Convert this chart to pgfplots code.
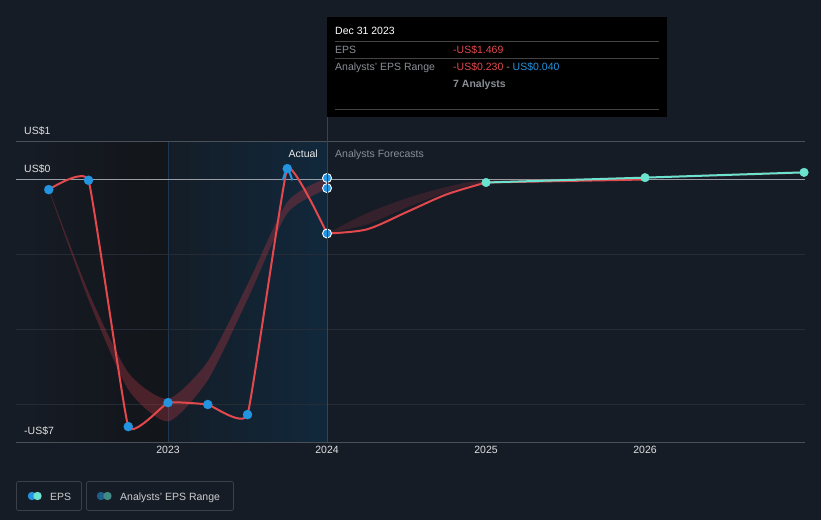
\documentclass[border=0pt]{standalone}
\usepackage{pgfplots}
\pgfplotsset{compat=1.18}
\usepackage{fontspec}
\setmainfont{Liberation Sans}

\definecolor{bg}{HTML}{161C26}
\definecolor{epsred}{HTML}{E3484D}
\definecolor{epsblue}{HTML}{2394DF}
\definecolor{epsteal}{HTML}{6CE3CF}
\definecolor{gridc}{HTML}{262C35}
\definecolor{axisc}{HTML}{4A5058}
\definecolor{zeroc}{HTML}{9A9EA4}
\definecolor{txtgray}{HTML}{8A8F96}
\definecolor{pastdark}{HTML}{121519}
\definecolor{actleft}{HTML}{141D27}
\definecolor{actright}{HTML}{11283C}
\definecolor{actline}{HTML}{1E3750}
\definecolor{cursor}{HTML}{2D465F}
\definecolor{bandred}{HTML}{A0343F}
\definecolor{sepc}{HTML}{444444}
\definecolor{legbox}{HTML}{3A404A}
\definecolor{rangeblue}{HTML}{1F5F8B}
\definecolor{rangeteal}{HTML}{3F8A82}

\begin{document}
\begin{tikzpicture}[x=1pt,y=1pt]
\fill[bg] (0,0) rectangle (821,520);
% shaded periods (2022.044 -> 16, 2023 -> 168, 2024 -> 327)
\fill[left color=bg, right color=pastdark] (16,78) rectangle (168,378);
\fill[left color=actleft, right color=actright] (168,78) rectangle (327,378);
\draw[actline, line width=0.8pt] (168,78) -- (168,378);

\begin{axis}[
  at={(16pt,78pt)}, anchor=south west,
  scale only axis, width=789pt, height=300pt,
  xmin=2022.044, xmax=2027.006,
  ymin=-7, ymax=1,
  axis y line=none,
  axis x line*=bottom,
  x axis line style={draw=axisc, line width=1pt, -},
  xtick={2023,2024,2025,2026},
  ytick=\empty,
  major tick length=0pt,
  xticklabel style={text=white!88!black, font=\fontsize{10.5}{12}\selectfont, yshift=-1pt},
  /pgf/number format/1000 sep={},
  /pgf/number format/assume math mode=true,
]
% grid
\draw[gridc, line width=1pt] (axis cs:2022.044,-2) -- (axis cs:2027.006,-2);
\draw[gridc, line width=1pt] (axis cs:2022.044,-4) -- (axis cs:2027.006,-4);
\draw[gridc, line width=1pt] (axis cs:2022.044,-6) -- (axis cs:2027.006,-6);
\draw[axisc, line width=1pt] (axis cs:2022.044,1) -- (axis cs:2027.006,1);
\draw[zeroc, line width=1.6pt] (axis cs:2022.044,0) -- (axis cs:2027.006,0);

% past analyst range band: upper edge, then lower edge back
\addplot[fill=bandred, fill opacity=0.4, draw=none, smooth, tension=0.4] coordinates {
  (2022.25,-0.25) (2022.5,-3.0) (2022.75,-5.15) (2023.0,-5.85) (2023.25,-4.85) (2023.5,-2.8) (2023.75,-0.6) (2024.0,0.04)
  (2024.0,-0.23) (2023.75,-0.9) (2023.5,-3.2) (2023.25,-5.35) (2023.0,-6.45) (2022.75,-5.6) (2022.5,-3.2) (2022.25,-0.29)
};

% forecast range band
\addplot[fill=bandred, fill opacity=0.22, draw=none, smooth, tension=0.4] coordinates {
  (2024,-1.44) (2024.25,-0.9) (2024.5,-0.5) (2024.75,-0.2) (2025,-0.03) (2026,0.08) (2027,0.23)
  (2027,0.15) (2026,0.02) (2025,-0.1) (2024.75,-0.35) (2024.5,-0.75) (2024.25,-1.2) (2024,-1.44)
};

% EPS actual
\addplot[epsred, line width=2pt, smooth, tension=0.2] coordinates {
  (2022.25,-0.27) (2022.5,-0.02) (2022.75,-6.59) (2023.0,-5.95) (2023.25,-6.0) (2023.5,-6.27) (2023.75,0.29) (2024.0,-1.44)
};
\addplot[epsblue, line width=2pt, smooth] coordinates {
  (2023.722,-0.02) (2023.75,0.29) (2023.782,-0.02)
};

% EPS forecast
\addplot[epsred, line width=2pt, smooth] coordinates {
  (2024,-1.44) (2024.25,-1.33) (2024.5,-0.87) (2024.75,-0.4) (2025,-0.08)
};
\addplot[epsred, line width=2pt] coordinates {
  (2025,-0.08) (2026,0.0)
};
\addplot[epsteal, line width=2pt] coordinates {
  (2025,-0.08) (2026,0.05) (2027,0.19)
};

% markers
\addplot[only marks, mark=*, mark size=4.5pt, color=epsblue] coordinates {
  (2022.25,-0.27) (2022.5,-0.02) (2022.75,-6.59) (2023.0,-5.95) (2023.25,-6.0) (2023.5,-6.27) (2023.75,0.29)
};
\addplot[only marks, mark=*, mark size=4.5pt, mark options={fill=epsblue, draw=white, line width=0.9pt}] coordinates {
  (2024,0.04) (2024,-0.23) (2024,-1.44)
};
\addplot[only marks, mark=*, mark size=4.3pt, color=epsteal] coordinates {
  (2025,-0.08) (2026,0.05) (2027,0.19)
};
\end{axis}

% cursor line and tooltip
\draw[cursor, line width=0.8pt] (327,503) -- (327,78);
\fill[black] (327,403) rectangle (667,503);
\begin{scope}[font=\fontsize{10.5}{12}\selectfont]
\node[anchor=base west, inner sep=0, text=white] at (335,485) {Dec 31 2023};
\draw[sepc, line width=0.7pt] (335,479) -- (659,479);
\node[anchor=base west, inner sep=0, text=txtgray] at (335,466) {EPS};
\node[anchor=base west, inner sep=0, text=epsred] at (453,466) {-US\$1.469};
\draw[sepc, line width=0.7pt] (335,462) -- (659,462);
\node[anchor=base west, inner sep=0, text=txtgray] at (335,449) {Analysts' EPS Range};
\node[anchor=base west, inner sep=0] at (453,449) {\textcolor{epsred}{-US\$0.230}\ \textcolor{txtgray}{-}\ \textcolor{epsblue}{US\$0.040}};
\node[anchor=base west, inner sep=0, text=txtgray] at (453,432) {\bfseries 7 Analysts};
\draw[sepc, line width=0.7pt] (335,411) -- (659,411);

% value labels
\node[anchor=base west, inner sep=0, text=white!88!black] at (24,385) {US\$1};
\node[anchor=base west, inner sep=0, text=white!88!black] at (24,347) {US\$0};
\node[anchor=base west, inner sep=0, text=white!88!black] at (24,86) {-US\$7};

\node[anchor=base east, inner sep=0, text=white!92!black] at (318,362) {Actual};
\node[anchor=base west, inner sep=0, text=txtgray] at (335,362) {Analysts Forecasts};

% legend
\draw[legbox, line width=0.8pt, rounded corners=2pt] (16.5,9.5) rectangle (81.5,38.5);
\fill[epsblue] (32,24) circle (4.2);
\fill[epsteal] (37.5,24) circle (4.2);
\node[anchor=base west, inner sep=0, text=white!80!black] at (50,20) {EPS};
\draw[legbox, line width=0.8pt, rounded corners=2pt] (86.5,9.5) rectangle (233.5,38.5);
\fill[rangeblue] (101,24) circle (4.2);
\fill[rangeteal] (107.5,24) circle (4.2);
\node[anchor=base west, inner sep=0, text=white!80!black] at (120,20) {Analysts' EPS Range};
\end{scope}
\end{tikzpicture}
\end{document}
